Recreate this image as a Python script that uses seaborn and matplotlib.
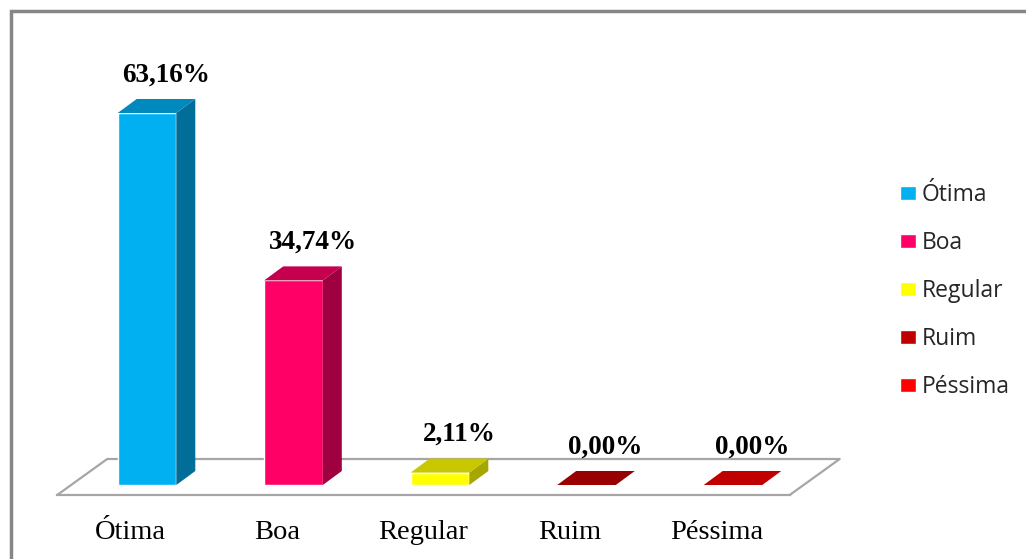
import matplotlib
matplotlib.use("Agg")
import matplotlib.pyplot as plt
from matplotlib.patches import Polygon, Rectangle
import numpy as np
import seaborn as sns

# data
categories = ["Ótima", "Boa", "Regular", "Ruim", "Péssima"]
values = [63.16, 34.74, 2.11, 0.00, 0.00]
value_labels = ["63,16%", "34,74%", "2,11%", "0,00%", "0,00%"]

front_colors = ["#00B0F0", "#FF0066", "#FFFF00", "#C00000", "#FF0000"]
top_colors = ["#0089BC", "#C4004F", "#C8C800", "#990000", "#C00000"]
side_colors = ["#006E98", "#9E0040", "#A6A600", "#800000", "#A00000"]

W, H = 1026, 559

sns.set_style("white")
plt.rcParams['font.family'] = ['Liberation Serif', 'DejaVu Serif']

fig = plt.figure(figsize=(W / 100, H / 100), dpi=100)

# axes placed in pixels: left 40, right 860, bottom 495 (floor front), top 30
ax = fig.add_axes([40 / W, (H - 495) / H, 820 / W, (495 - 30) / H])

sns.barplot(x=categories, y=values, hue=categories, palette=front_colors,
            width=0.4, saturation=1, legend=True, ax=ax, zorder=3)

# 1 unit on x = 146.5 px, 1% on y = 5.89 px
ax.set_xlim((40 - 147) / 146.5, (860 - 147) / 146.5)
ax.set_ylim((485 - 495) / 5.89, (485 - 30) / 5.89)
y0 = ax.get_ylim()[0]

# 3D look: depth offsets in data units
dx, dy = 19 / 146.5, 14 / 5.89
floor_dx, floor_dy = 50 / 146.5, 36 / 5.89

shift = -0.113
bounds = np.arange(len(categories) + 1) - 0.5 + shift
centers = np.arange(len(categories)) + shift

# floor outline
grey = "#A6A6A6"
fl, fr = bounds[0], bounds[-1]
ax.plot([fl, fl + floor_dx, fr + floor_dx, fr],
        [y0, y0 + floor_dy, y0 + floor_dy, y0],
        color=grey, lw=1.6, zorder=1, clip_on=False)

bars = [p for c in ax.containers for p in c]
bars = sorted(bars, key=lambda p: p.get_x())
for i, p in enumerate(bars):
    x0, w, h = p.get_x(), p.get_width(), p.get_height()
    if h > 0:
        side = Polygon([(x0 + w, 0), (x0 + w + dx, dy), (x0 + w + dx, h + dy), (x0 + w, h)],
                       closed=True, facecolor=side_colors[i], edgecolor="none", zorder=3)
        ax.add_patch(side)
    top = Polygon([(x0, h), (x0 + w, h), (x0 + w + dx, h + dy), (x0 + dx, h + dy)],
                  closed=True, facecolor=top_colors[i], edgecolor="none", zorder=3)
    ax.add_patch(top)
    ax.text(x0 + w / 2 + dx, h + dy + 2.0, value_labels[i], ha="center", va="bottom",
            fontsize=19.5, fontweight="bold", color="black")

# axis: bottom spine is the floor front edge
for s in ["left", "top", "right"]:
    ax.spines[s].set_visible(False)
ax.spines["bottom"].set_bounds(fl, fr)
ax.spines["bottom"].set_color(grey)
ax.spines["bottom"].set_linewidth(1.6)
ax.set_yticks([])
ax.set_xticks(bounds)
ax.set_xticklabels([])
ax.set_xticks(centers, minor=True)
ax.set_xticklabels(categories, minor=True)
ax.tick_params(axis="x", which="major", length=6, width=1.6, color=grey, direction="out")
ax.tick_params(axis="x", which="minor", length=0, pad=18, labelsize=20.5, labelcolor="black")
ax.set_xlabel("")
ax.set_ylabel("")

sns.move_legend(ax, "upper left", bbox_to_anchor=(900 / W, 1 - 183 / H),
                bbox_transform=fig.transFigure, frameon=False,
                prop={"family": "Open Sans", "size": 16.5},
                labelspacing=1.05, handlelength=0.68, handleheight=0.56,
                handletextpad=0.28, borderpad=0, borderaxespad=0)

# outer chart border (cropped on right and bottom)
fig.add_artist(Rectangle((10.5 / W, -0.05), 1.2, (H - 10.5) / H + 0.05,
                         transform=fig.transFigure, fill=False,
                         edgecolor="#868686", lw=2.5))

fig.savefig("out.png", dpi=100)
